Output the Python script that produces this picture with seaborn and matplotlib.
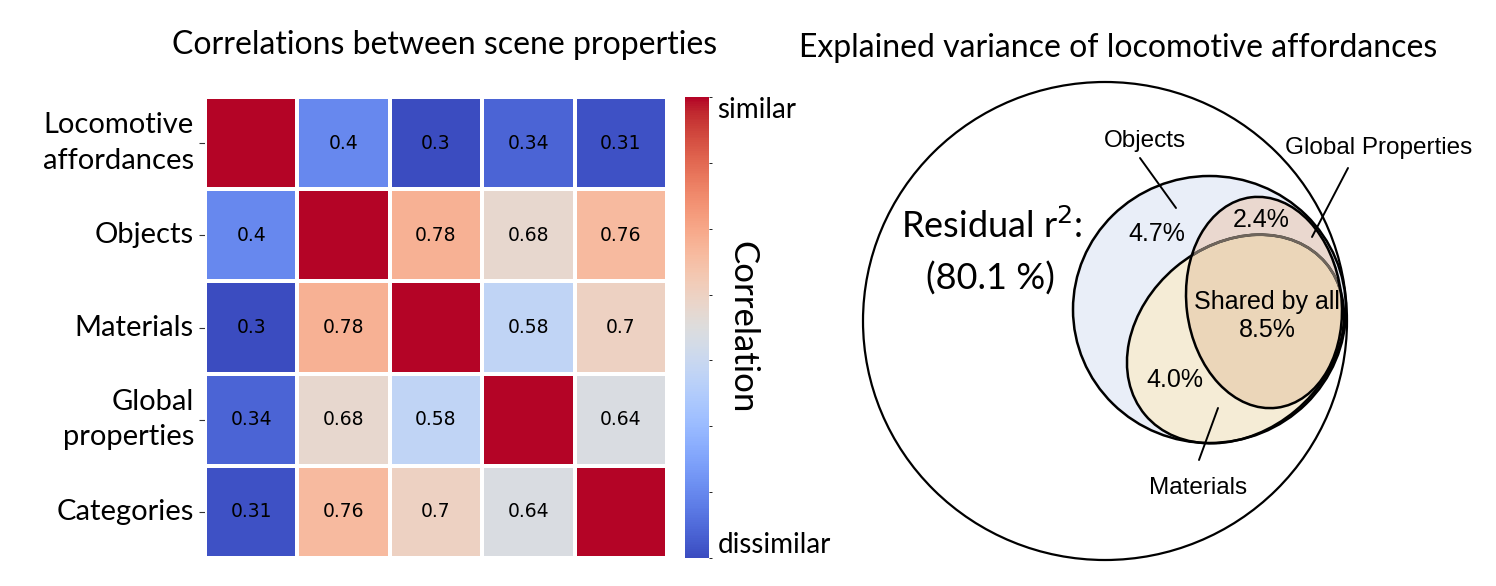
import numpy as np
import pandas as pd
import seaborn as sns
import matplotlib.pyplot as plt
from matplotlib.patches import Ellipse

sns.set_style("white")
plt.rcParams['font.family'] = ['Lato', 'DejaVu Sans']
plt.rcParams['text.color'] = 'black'
plt.rcParams['axes.labelcolor'] = 'black'
plt.rcParams['ytick.color'] = 'black'

# data
props = ["Locomotive\naffordances", "Objects", "Materials", "Global\nproperties", "Categories"]
corr_loco = [1.0, 0.40, 0.30, 0.34, 0.31]
corr_obj = [0.40, 1.0, 0.78, 0.68, 0.76]
corr_mat = [0.30, 0.78, 1.0, 0.58, 0.70]
corr_glob = [0.34, 0.68, 0.58, 1.0, 0.64]
corr_cat = [0.31, 0.76, 0.70, 0.64, 1.0]

residual = 80.1
objects_only = 4.7
global_only = 2.4
materials_only = 4.0
shared_all = 8.5

corr = pd.DataFrame([corr_loco, corr_obj, corr_mat, corr_glob, corr_cat],
                    index=props, columns=props)
annot = corr.map(lambda v: "" if v == 1.0 else f"{v:g}")

fig = plt.figure(figsize=(14.96, 5.86), dpi=100)
W, H = 1496, 586

ax = fig.add_axes([205 / W, 28 / H, 462 / W, 461 / H])
cax = fig.add_axes([685 / W, 28 / H, 24 / W, 461 / H])

sns.heatmap(corr, ax=ax, cbar_ax=cax, cmap="coolwarm", vmin=0.3, vmax=1.0,
            annot=annot.values, fmt="",
            annot_kws={"size": 13.5, "family": "DejaVu Sans", "color": "black"},
            linewidths=1.5, linecolor="white")
ax.set_xticks([])
ax.set_yticklabels(props, rotation=0, fontsize=21, ha="right", linespacing=1.45,
                   color="black")
ax.tick_params(axis="y", length=4, width=0.8, color="#333333", pad=4, left=True)
ax.set_ylabel("")
ax.set_xlabel("")

cticks = np.arange(0.3, 1.01, 0.1)
cax.set_yticks(cticks)
cax.set_yticklabels(["dissimilar"] + [""] * 6 + ["similar"], fontsize=20, color="black")
cax.tick_params(length=2, width=0.6, pad=4)
tl = cax.get_yticklabels()
tl[0].set_va("bottom")
tl[-1].set_va("top")
cax.set_ylabel("Correlation", rotation=270, fontsize=25, labelpad=-52, color="black")
for s in cax.spines.values():
    s.set_visible(False)

fig.text(445 / W, 1 - 45 / H, "Correlations between scene properties",
         ha="center", va="center", fontsize=23)
fig.text(1118 / W, 1 - 48 / H, "Explained variance of locomotive affordances",
         ha="center", va="center", fontsize=23)

# venn-style diagram (pixel-like coordinates)
vx = fig.add_axes([823 / W, 0, (W - 823) / W, 1])
vx.set_xlim(823, W)
vx.set_ylim(H, 0)
vx.axis("off")

outer_geo = dict(xy=(1105, 321), width=484, height=478, angle=0)
obj_geo = dict(xy=(1209.5, 309.5), width=273, height=267, angle=0)
mat_geo = dict(xy=(1235.5, 339), width=236, height=187, angle=-40)
glob_geo = dict(xy=(1264, 302.5), width=155, height=212, angle=-7)

vx.add_patch(Ellipse(**outer_geo, fc="white", ec="black", lw=1.6))
vx.add_patch(Ellipse(**obj_geo, fc="#e9eef8", ec="none"))
vx.add_patch(Ellipse(**mat_geo, fc="#f5ecd6", ec="none"))
glob_fill = Ellipse(**glob_geo, fc="#ead8cf", ec="none")
vx.add_patch(glob_fill)

shared = Ellipse(**mat_geo, fc="#ebd6b9", ec="none")
vx.add_patch(shared)
shared.set_clip_path(glob_fill)

vx.add_patch(Ellipse(**obj_geo, fc="none", ec="black", lw=1.8))
vx.add_patch(Ellipse(**mat_geo, fc="none", ec="black", lw=1.8))
gray_edge = Ellipse(**mat_geo, fc="none", ec="#6e655c", lw=2.0)
vx.add_patch(gray_edge)
gray_edge.set_clip_path(Ellipse(glob_geo["xy"], glob_geo["width"] - 3, glob_geo["height"] - 3,
                                angle=glob_geo["angle"], transform=vx.transData))
vx.add_patch(Ellipse(**glob_geo, fc="none", ec="black", lw=1.8))

arial = ["Liberation Sans", "DejaVu Sans"]
vx.text(1145, 141, "Objects", ha="center", va="center", fontsize=17.5, family=arial)
vx.plot([1140, 1176], [158, 208], color="black", lw=1.4)
vx.text(1379, 148, "Global Properties", ha="center", va="center", fontsize=17.5, family=arial)
vx.plot([1348, 1312], [168, 237], color="black", lw=1.4)
vx.text(1198, 488, "Materials", ha="center", va="center", fontsize=17.5, family=arial)
vx.plot([1218, 1199], [408, 460], color="black", lw=1.4)

vx.text(1157, 234, f"{objects_only}%", ha="center", va="center", fontsize=18, family=arial)
vx.text(1261, 220, f"{global_only}%", ha="center", va="center", fontsize=18, family=arial)
vx.text(1267, 316, f"Shared by all\n{shared_all}%", ha="center", va="center",
        fontsize=18, family=arial, linespacing=1.2)
vx.text(1175, 380, f"{materials_only}%", ha="center", va="center", fontsize=18, family=arial)

vx.text(992, 226, r"Residual r$^2$:", ha="center", va="center", fontsize=26)
vx.text(990, 279, f"({residual} %)", ha="center", va="center", fontsize=26)

fig.savefig("out.png", dpi=100)
